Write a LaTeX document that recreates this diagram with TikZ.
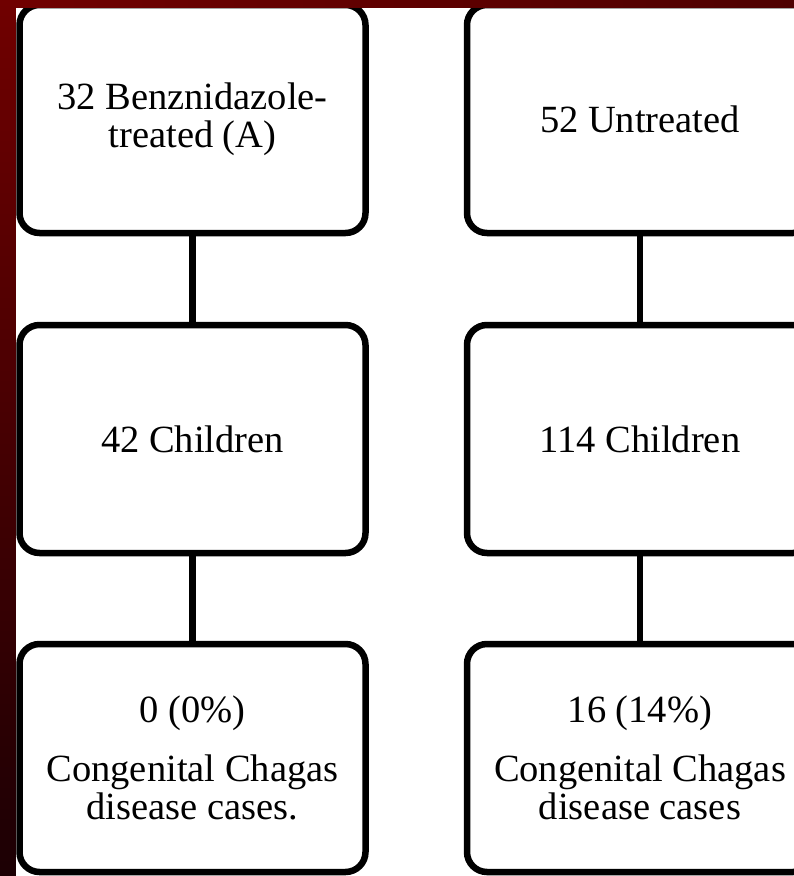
\documentclass[tikz,border=0pt]{standalone}
\usepackage{fontspec}
\setmainfont{Liberation Serif}
\definecolor{bandtop}{RGB}{112,0,0}
\definecolor{bandmid}{RGB}{90,0,0}
\definecolor{bandbot}{RGB}{28,0,4}
\definecolor{bandright}{RGB}{78,0,0}
\begin{document}
\begin{tikzpicture}[x=1pt,y=-1pt,
  flowbox/.style={draw=black, line width=6.5pt, rounded corners=20pt, fill=white,
    minimum width=346pt, minimum height=228pt, inner sep=0pt, align=center,
    font=\fontsize{38.5}{38}\selectfont, text=black},
  link/.style={draw=black, line width=6.5pt}]
\useasboundingbox (0,0) rectangle (794,876);
\shade[top color=bandtop, middle color=bandmid, bottom color=bandbot] (0,0) rectangle (16,876);
\shade[left color=bandtop, right color=bandright] (16,0) rectangle (794,8);
\fill[white] (16,8) rectangle (794,876);
\begin{scope}
\clip (16,8) rectangle (794,876);
\node[flowbox] (a1) at (192.5,119) {32 Benznidazole-\\treated (A)};
\node[flowbox] (a2) at (192.5,439) {42 Children};
\node[flowbox] (a3) at (192.5,758) {0 (0\%)\\[21pt]Congenital Chagas\\disease cases.};
\node[flowbox] (b1) at (640,119) {52 Untreated};
\node[flowbox] (b2) at (640,439) {114 Children};
\node[flowbox] (b3) at (640,758) {16 (14\%)\\[21pt]Congenital Chagas\\disease cases};
\draw[link] (a1.south) -- (a2.north);
\draw[link] (a2.south) -- (a3.north);
\draw[link] (b1.south) -- (b2.north);
\draw[link] (b2.south) -- (b3.north);
\end{scope}
\end{tikzpicture}
\end{document}
